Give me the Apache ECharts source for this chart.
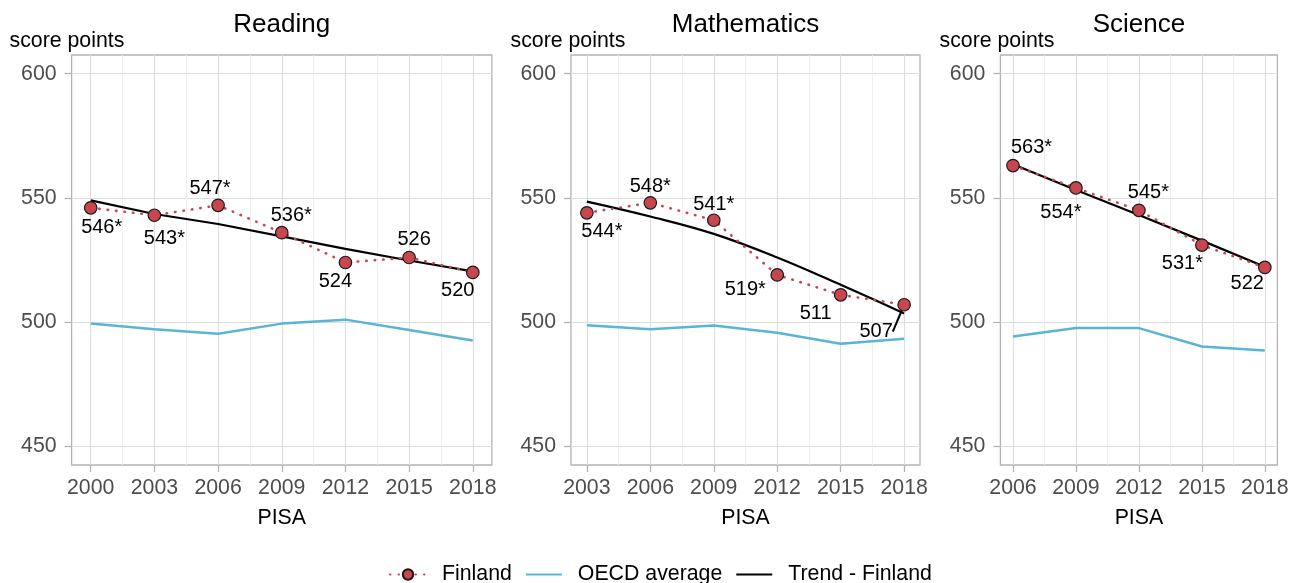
<!DOCTYPE html>
<html lang="en">
<head>
    <meta charset="UTF-8">
    <title>Finland PISA trends</title>
    <style>
        html, body { margin: 0; padding: 0; background: #fff; }
        #chart { width: 1299px; height: 583px; }
    </style>
    <script src="https://cdn.jsdelivr.net/npm/echarts@6/dist/echarts.min.js"></script>
</head>
<body>
    <div id="chart"></div>
    <script>
        // values
        var readingYears = [2000, 2003, 2006, 2009, 2012, 2015, 2018];
        var readingFinland = [546, 543, 547, 536, 524, 526, 520];
        var readingSig = [true, true, true, true, false, false, false];
        var readingOecd = [499.4, 497.1, 495.3, 499.4, 501, 496.8, 492.6];
        var readingTrend = [549, 543.5, 539.5, 534.5, 529.5, 524.8, 520.4];

        var mathYears = [2003, 2006, 2009, 2012, 2015, 2018];
        var mathFinland = [544, 548, 541, 519, 511, 507];
        var mathSig = [true, true, true, true, false, false];
        var mathOecd = [498.7, 497.1, 498.6, 495.7, 491.3, 493.3];
        var mathTrend = [548.5, 542.5, 535.5, 526, 515, 503.5];

        var scienceYears = [2006, 2009, 2012, 2015, 2018];
        var scienceFinland = [563, 554, 545, 531, 522];
        var scienceSig = [true, true, true, true, false];
        var scienceOecd = [494.2, 497.6, 497.6, 490.2, 488.6];
        var scienceTrend = [563.5, 553.2, 543.1, 532.8, 522.3];

        var yTicks = [450, 500, 550, 600];

        // label nudges (px) relative to each point
        var readingLabelOffsets = [[11, 20], [10, 23], [-8, -17], [9.5, -17], [-10, 19], [5, -18], [-15, 18.5]];
        var mathLabelOffsets = [[15, 19], [0, -16], [0, -16], [-32, 15], [-25, 19], [-28, 27]];
        var scienceLabelOffsets = [[18.5, -18.5], [-15, 25], [9.5, -18], [-19.5, 18], [-17.5, 16]];
        // ggrepel-style leader segment only on Mathematics 2018
        var mathLeader = [false, false, false, false, false, true];

        var FONT = 'Liberation Sans, Arial, sans-serif';
        var RED = '#c8474f';
        var BLUE = '#5ab4d6';

        var panels = [
            { title: 'Reading', years: readingYears, fin: readingFinland, sig: readingSig, oecd: readingOecd, trend: readingTrend, offsets: readingLabelOffsets, leader: null, left: 71.6, width: 420.3, pad: 0.9, smooth: false },
            { title: 'Mathematics', years: mathYears, fin: mathFinland, sig: mathSig, oecd: mathOecd, trend: mathTrend, offsets: mathLabelOffsets, leader: mathLeader, left: 571, width: 349, pad: 0.75, smooth: 0.4 },
            { title: 'Science', years: scienceYears, fin: scienceFinland, sig: scienceSig, oecd: scienceOecd, trend: scienceTrend, offsets: scienceLabelOffsets, leader: null, left: 1000.4, width: 277, pad: 0.6, smooth: false }
        ];

        var grids = [], xAxes = [], yAxes = [], series = [], graphics = [];

        panels.forEach(function (p, i) {
            var first = p.years[0], last = p.years[p.years.length - 1];
            var mids = p.years.slice(1).map(function (y, k) { return (y + p.years[k]) / 2; });

            grids.push({
                left: p.left, width: p.width, top: 55, height: 410,
                show: true, borderColor: '#b3b3b3', borderWidth: 1.3, backgroundColor: 'transparent'
            });

            xAxes[i] = {
                type: 'value', gridIndex: i, min: first - p.pad, max: last + p.pad,
                name: 'PISA', nameLocation: 'middle', nameGap: 43,
                nameTextStyle: { fontSize: 21.3, color: '#000', fontFamily: FONT },
                axisLine: { show: false },
                axisTick: { show: true, length: 7, customValues: p.years, lineStyle: { color: '#b3b3b3', width: 1.3 } },
                axisLabel: {
                    customValues: p.years, margin: 13, fontSize: 21.3, color: '#4d4d4d', fontFamily: FONT,
                    formatter: function (v) { return String(v); }
                },
                splitLine: { show: true, lineStyle: { color: '#dedede', width: 1.1 } }
            };
            // minor vertical grid lines
            xAxes[3 + i] = {
                type: 'value', gridIndex: i, min: first - p.pad, max: last + p.pad,
                axisLine: { show: false },
                axisTick: { show: false, customValues: mids },
                axisLabel: { show: false, customValues: mids },
                splitLine: { show: true, lineStyle: { color: '#ececec', width: 0.9 } }
            };

            yAxes.push({
                type: 'value', gridIndex: i, min: 442.5, max: 607.5,
                axisLine: { show: false },
                axisTick: { show: true, length: 7, customValues: yTicks, lineStyle: { color: '#b3b3b3', width: 1.3 } },
                axisLabel: { customValues: yTicks, margin: 15, fontSize: 21.3, color: '#4d4d4d', fontFamily: FONT },
                splitLine: { show: true, lineStyle: { color: '#dedede', width: 1.1 } }
            });

            series.push({
                name: 'OECD average', type: 'line', xAxisIndex: i, yAxisIndex: i,
                data: p.years.map(function (y, k) { return [y, p.oecd[k]]; }),
                symbol: 'none', color: BLUE,
                lineStyle: { color: BLUE, width: 2.5 }
            });
            series.push({
                name: 'Trend - Finland', type: 'line', xAxisIndex: i, yAxisIndex: i,
                data: p.years.map(function (y, k) { return [y, p.trend[k]]; }),
                symbol: 'none', smooth: p.smooth, color: '#000',
                lineStyle: { color: '#000', width: 2.2 }
            });
            series.push({
                name: 'Finland', type: 'line', xAxisIndex: i, yAxisIndex: i,
                data: p.years.map(function (y, k) {
                    var item = {
                        value: [y, p.fin[k]],
                        label: { offset: p.offsets[k] }
                    };
                    if (p.leader && p.leader[k]) {
                        item.labelLine = { show: true, lineStyle: { color: '#000', width: 2 } };
                    }
                    return item;
                }),
                symbol: 'circle', symbolSize: 12.5, color: RED,
                itemStyle: { color: RED, borderColor: '#1a1a1a', borderWidth: 1.2 },
                lineStyle: { color: RED, width: 2.6, type: [0.5, 8], cap: 'round' },
                label: {
                    show: true, position: 'inside', fontSize: 20, color: '#000', fontFamily: FONT,
                    formatter: function (prm) {
                        return prm.value[1] + (p.sig[prm.dataIndex] ? '*' : '');
                    }
                },
                z: 5
            });

            graphics.push({
                type: 'text', x: p.left + p.width / 2, y: 24.5,
                style: { text: p.title, fontSize: 26, fontFamily: FONT, fill: '#000', align: 'center', verticalAlign: 'middle' }
            });
        });

        graphics.push(
            { type: 'text', x: 9.5, y: 41, style: { text: 'score points', fontSize: 21.3, fontFamily: FONT, fill: '#000', align: 'left', verticalAlign: 'middle' } },
            { type: 'text', x: 510.5, y: 41, style: { text: 'score points', fontSize: 21.3, fontFamily: FONT, fill: '#000', align: 'left', verticalAlign: 'middle' } },
            { type: 'text', x: 939.5, y: 41, style: { text: 'score points', fontSize: 21.3, fontFamily: FONT, fill: '#000', align: 'left', verticalAlign: 'middle' } }
        );

        var chart = echarts.init(document.getElementById('chart'));
        chart.setOption({
            animation: false,
            grid: grids,
            xAxis: xAxes,
            yAxis: yAxes,
            series: series,
            graphic: graphics,
            legend: {
                data: [
                    'Finland',
                    { name: 'OECD average', itemStyle: { opacity: 0 } },
                    { name: 'Trend - Finland', itemStyle: { opacity: 0 } }
                ],
                left: 389, top: 564, padding: 0,
                itemWidth: 36, itemHeight: 13, itemGap: 13,
                textStyle: { fontSize: 21.3, color: '#000', fontFamily: FONT, padding: [0, 0, 0, 11] }
            }
        });
    </script>
</body>
</html>
